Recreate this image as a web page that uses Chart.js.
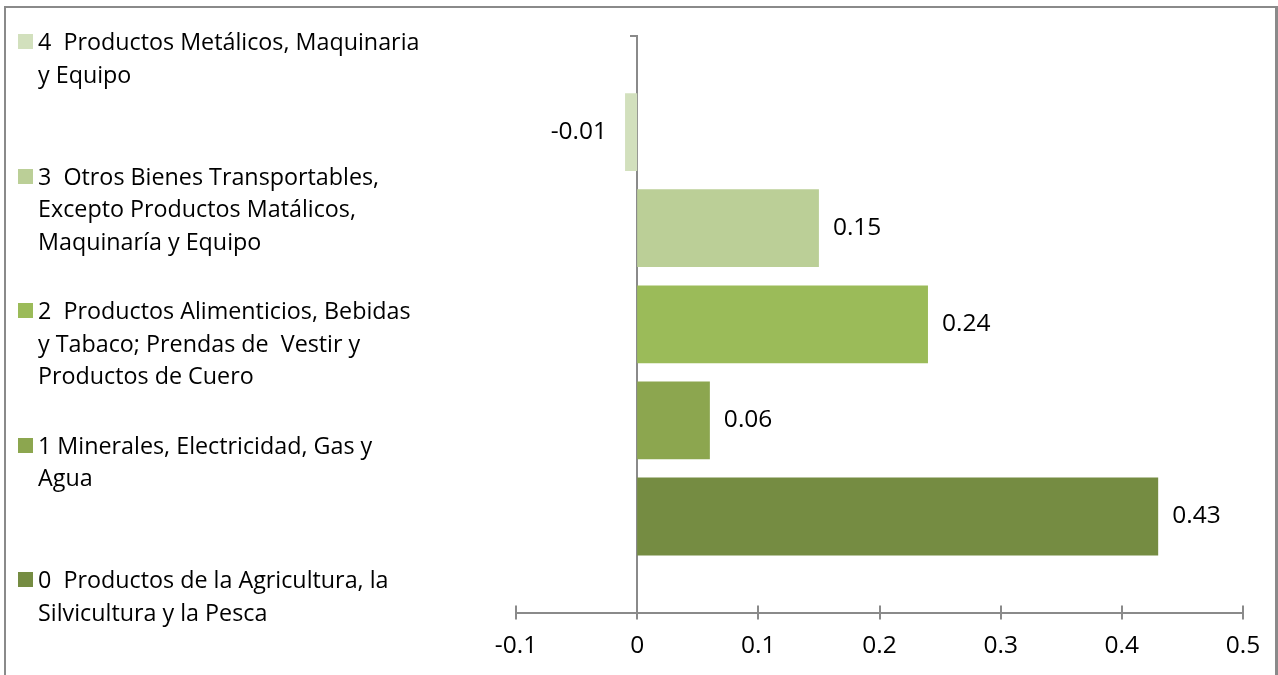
<!DOCTYPE html>
<html>
<head>
<meta charset="utf-8">
<script src="https://cdn.jsdelivr.net/npm/chart.js@4/dist/chart.umd.min.js"></script>
<style>
  html, body { margin: 0; padding: 0; background: #fff; }
  #wrap { position: relative; width: 1278px; height: 675px; overflow: hidden; font-family: "Open Sans", sans-serif; }
  #frame { position: absolute; left: 4px; top: 6px; width: 1269px; height: 700px;
           border-top: 2px solid #8a8a8a; border-left: 2px solid #8a8a8a; border-right: 3px solid #8a8a8a; }
  #chart { position: absolute; left: 0; top: 0; }
  .item { position: absolute; left: 18px; font-size: 23.3px; line-height: 32.5px; color: #000; white-space: pre; }
  .item .box { position: absolute; left: 0; top: 9px; width: 15px; height: 15px; }
  .item .txt { margin-left: 20px; }
</style>
</head>
<body>
<div id="wrap">
  <div id="frame"></div>
  <canvas id="chart" width="1278" height="675"></canvas>
  <div id="legend"></div>
</div>
<script>
// categories (bottom to top), with the legend's line breaks
var categories = [
    ['0  Productos de la Agricultura, la', 'Silvicultura y la Pesca'],
    ['1 Minerales, Electricidad, Gas y', 'Agua'],
    ['2  Productos Alimenticios, Bebidas', 'y Tabaco; Prendas de  Vestir y', 'Productos de Cuero'],
    ['3  Otros Bienes Transportables,', 'Excepto Productos Matálicos,', 'Maquinaría y Equipo'],
    ['4  Productos Metálicos, Maquinaria', 'y Equipo']
];
var values = [0.43, 0.06, 0.24, 0.15, -0.01];
var colors = ['#758c42', '#8ca64f', '#9bbb59', '#bbcf97', '#d2e0bd'];
var xTicks = [-0.1, 0, 0.1, 0.2, 0.3, 0.4, 0.5];

var axisColor = '#8a8a8a';
var fontFamily = '"Open Sans", sans-serif';

// legend on the left, top entry first
var legend = document.getElementById('legend');
for (var i = categories.length - 1; i >= 0; i--) {
    var row = categories.length - 1 - i;
    var div = document.createElement('div');
    div.className = 'item';
    div.style.top = (25 + row * 134.5) + 'px';
    div.innerHTML = '<span class="box" style="background:' + colors[i] + '"></span>' +
        '<div class="txt">' + categories[i].join('\n') + '</div>';
    legend.appendChild(div);
}

// tick marks crossing the x axis
var crossTicks = {
    id: 'crossTicks',
    afterDraw: function(chart) {
        var x = chart.scales.x, c = chart.ctx, y0 = chart.chartArea.bottom;
        c.save();
        c.strokeStyle = axisColor;
        c.lineWidth = 2;
        x.ticks.forEach(function(t) {
            var px = Math.round(x.getPixelForValue(t.value));
            c.beginPath();
            c.moveTo(px, y0 - 7);
            c.lineTo(px, y0 + 7);
            c.stroke();
        });
        c.restore();
    }
};

// value labels next to the bars
var barLabels = {
    id: 'barLabels',
    afterDatasetsDraw: function(chart) {
        var c = chart.ctx;
        c.save();
        c.font = '24.5px ' + fontFamily;
        c.fillStyle = '#000';
        c.textBaseline = 'middle';
        chart.getDatasetMeta(0).data.forEach(function(bar, i) {
            var v = values[i];
            if (v >= 0) {
                c.textAlign = 'left';
                c.fillText(v.toFixed(2), bar.x + 14, bar.y);
            } else {
                c.textAlign = 'right';
                c.fillText(v.toFixed(2), bar.x - 18, bar.y);
            }
        });
        c.restore();
    }
};

new Chart(document.getElementById('chart'), {
    type: 'bar',
    data: {
        datasets: [{
            data: values.map(function(v, i) { return { x: v, y: i }; }),
            backgroundColor: colors,
            barPercentage: 0.81,
            categoryPercentage: 1
        }]
    },
    options: {
        indexAxis: 'y',
        responsive: false,
        animation: false,
        layout: { padding: { left: 516, right: 35, top: 36, bottom: -5 } },
        plugins: { legend: { display: false }, tooltip: { enabled: false } },
        scales: {
            x: {
                type: 'linear',
                min: -0.1,
                max: 0.5,
                afterBuildTicks: function(s) { s.ticks = xTicks.map(function(v) { return { value: v }; }); },
                afterFit: function(s) { s.paddingLeft = 0; s.paddingRight = 0; },
                grid: { display: false, drawTicks: false },
                border: { display: true, color: axisColor, width: 2 },
                ticks: {
                    padding: 19,
                    maxRotation: 0,
                    color: '#000',
                    font: { family: fontFamily, size: 24.5 },
                    callback: function(v) { return String(Math.round(v * 10) / 10); }
                }
            },
            y: {
                type: 'linear',
                min: -1,
                max: 5,
                offset: false,
                position: { x: 0 },
                ticks: { display: false, stepSize: 6 },
                grid: { offset: false, drawOnChartArea: false, color: axisColor, lineWidth: 2, tickLength: 6 },
                border: { display: true, color: axisColor, width: 2 }
            }
        }
    },
    plugins: [crossTicks, barLabels]
});
</script>
</body>
</html>
